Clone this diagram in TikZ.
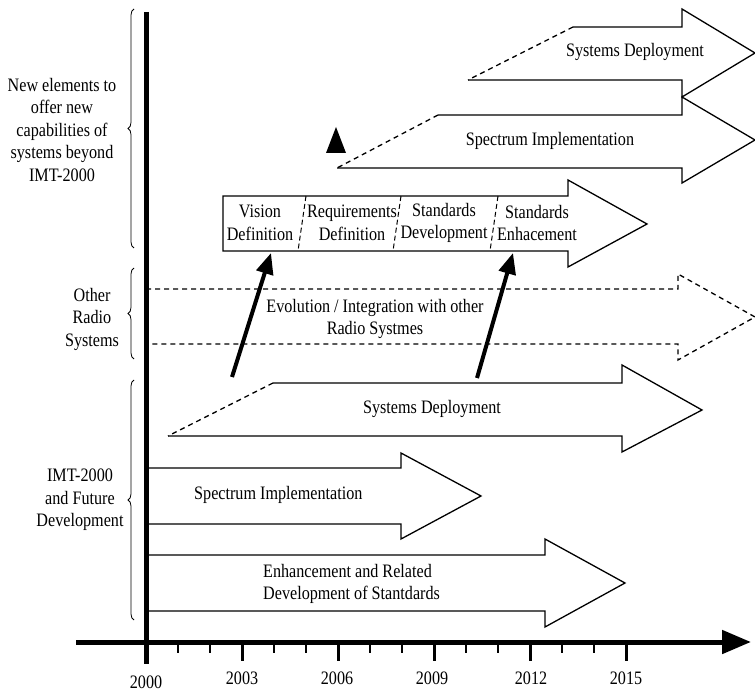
\documentclass[tikz,border=0pt]{standalone}
\usepackage{fontspec}
\setmainfont{Liberation Serif}[FakeStretch=0.85]
\usetikzlibrary{decorations.pathreplacing,arrows.meta}
\begin{document}
\begin{tikzpicture}[x=1pt,y=-1pt, line join=miter,
  outl/.style={draw=black, line width=1.3pt},
  dsh/.style={draw=black, line width=1.3pt, dash pattern=on 5pt off 4pt},
  divd/.style={draw=black, line width=1pt, dash pattern=on 5pt off 3pt},
  lbl/.style={font=\fontsize{19}{22.5}\selectfont, inner sep=0pt, align=center},
  yr/.style={font=\fontsize{19}{22}\selectfont, inner sep=0pt, anchor=base},
  brc/.style={draw, line width=0.8pt, decorate, decoration={brace, amplitude=6pt}},
  bigarr/.style={line width=4pt, -{Triangle[length=21pt,width=17pt]}},
  majt/.style={line width=3pt},
  mint/.style={line width=2.5pt}]
\useasboundingbox (0,0) rectangle (755,692);

% ---- top: Systems Deployment
\draw[outl] (468,80) -- (682,80) -- (682,97) -- (755,53) -- (682,9) -- (682,27) -- (573,27);
\draw[dsh] (573,27) -- (468,80);
\node[lbl] (sd1) at (635,52) {Systems Deployment};

% ---- top: Spectrum Implementation
\draw[outl] (337,168) -- (682,168) -- (682,183) -- (755,140) -- (682,97) -- (682,115) -- (438,115);
\draw[dsh] (438,115) -- (337,168);
\node[lbl] (si1) at (550,141) {Spectrum Implementation};

% ---- small filled triangle
\fill (326,153) -- (346,153) -- (336,127) -- cycle;

% ---- vision box arrow
\draw[outl] (223,196) -- (568,196) -- (568,180) -- (647,224) -- (568,267) -- (568,251) -- (223,251) -- cycle;
\draw[divd] (306,196) -- (298,251);
\draw[divd] (401,196) -- (393,251);
\draw[divd] (498,196) -- (490,251);
\node[lbl] (vis) at (260,223) {Vision\\Definition};
\node[lbl] (req) at (352,223) {Requirements\\Definition};
\node[lbl] (std) at (444,223) {Standards\\Development};
\node[lbl] (enh) at (537,223) {Standards\\Enhacement};
\coordinate (t1) at (271,253);
\coordinate (t2) at (513,253);

% ---- evolution dashed arrow
\draw[dsh] (146,289) -- (678,289) -- (678,274) -- (755,317) -- (678,360) -- (678,344) -- (146,344);
\node[lbl] (evo) at (375,319) {Evolution / Integration with other\\Radio Systmes};

% ---- black arrows
\coordinate (s1) at (232,377);
\coordinate (s2) at (477,378);
\draw[bigarr] (s1) -- (t1);
\draw[bigarr] (s2) -- (t2);

% ---- lower Systems Deployment
\draw[outl] (168,436) -- (622,436) -- (622,452) -- (702,410) -- (622,365) -- (622,383) -- (273,383);
\draw[dsh] (273,383) -- (168,436);
\node[lbl] (sd2) at (432,409) {Systems Deployment};

% ---- lower Spectrum Implementation
\draw[outl] (146,468) -- (401,468) -- (401,453) -- (481,496) -- (401,539) -- (401,524) -- (146,524);
\node[lbl, anchor=west] (si2) at (194,495) {Spectrum Implementation};

% ---- Enhancement
\draw[outl] (146,555) -- (545,555) -- (545,539) -- (625,583) -- (545,627) -- (545,611) -- (146,611);
\node[lbl, anchor=west, align=left] (enr) at (263,584) {Enhancement and Related\\Development of Stantdards};

% ---- axes
\draw[line width=5pt] (146,12) -- (146,664);
\draw[line width=5pt, -{Triangle[length=29pt,width=23pt]}] (76,642) -- (751,642);
\foreach \i in {1,...,15} {
  \pgfmathtruncatemacro{\m}{mod(\i,3)}
  \ifnum\m=0
    \draw[majt] (146+32*\i,642) -- (146+32*\i,661);
  \else
    \draw[mint] (146+32*\i,642) -- (146+32*\i,653);
  \fi
}
\node[yr] (y0) at (146,688) {2000};
\node[yr] (y3) at (242,684) {2003};
\node[yr] (y6) at (337,684) {2006};
\node[yr] (y9) at (432,684) {2009};
\node[yr] (y12) at (531,684) {2012};
\node[yr] (y15) at (626,684) {2015};

% ---- braces and side labels
\draw[brc] (134,248) -- (134,9);
\draw[brc] (134,359) -- (134,268);
\draw[brc] (134,620) -- (134,380);
\node[lbl] (g1) at (62,130) {New elements to\\offer new\\capabilities of\\systems beyond\\IMT-2000};
\node[lbl] (g2) at (92,319) {Other\\Radio\\Systems};
\node[lbl] (g3) at (80,500) {IMT-2000\\and Future\\Development};
\end{tikzpicture}
\end{document}
